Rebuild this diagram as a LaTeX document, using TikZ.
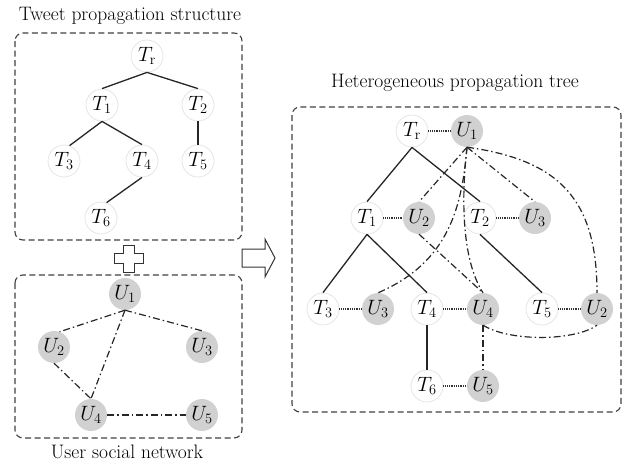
\documentclass[tikz,border=0pt]{standalone}
\begin{document}
\begin{tikzpicture}[x=1pt,y=-1pt,
  tn/.style={circle,draw=black!10,line width=0.8pt,fill=white,minimum size=32pt,inner sep=0pt,font=\fontsize{20}{22}\selectfont},
  un/.style={circle,fill=black!18,minimum size=32pt,inner sep=0pt,font=\fontsize{20}{22}\selectfont},
  tree/.style={line width=1.3pt,draw=black!85},
  tulink/.style={line width=1.2pt,draw=black!80,dash pattern=on 1pt off 0.8pt},
  social/.style={line width=1.2pt,draw=black!85,dash pattern=on 7pt off 3pt on 1.5pt off 3pt},
  frame/.style={line width=1.1pt,draw=black!75,dash pattern=on 6pt off 3.5pt,rounded corners=8pt},
  ttl/.style={font=\fontsize{19.5}{22}\selectfont},
  hollow/.style={line width=1pt,draw=black!80,fill=white}]
\useasboundingbox (0,0) rectangle (628,466);

% titles
\node[ttl] (ttweet) at (130,16) {Tweet propagation structure};
\node[ttl] (tuser) at (127,452) {User social network};
\node[ttl] (thet) at (455,83) {Heterogeneous propagation tree};

% frames
\draw[frame] (15,33) rectangle (242,240);
\draw[frame] (15,275) rectangle (242,438);
\draw[frame] (292,107) rectangle (621,412);

% plus and arrow
\draw[hollow] (114,253) -- (123,253) -- (123,245) -- (134,245) -- (134,253) -- (143,253) -- (143,263) -- (134,263) -- (134,272) -- (123,272) -- (123,263) -- (114,263) -- cycle;
\draw[hollow] (242,249) -- (265,249) -- (265,239) -- (275,258) -- (265,277) -- (265,267) -- (242,267) -- cycle;

% tweet tree
\node[tn] (Tr) at (147,56) {$T_{\mathrm{r}}$};
\node[tn] (T1) at (102,105) {$T_1$};
\node[tn] (T2) at (198,105) {$T_2$};
\node[tn] (T3) at (64,161) {$T_3$};
\node[tn] (T4) at (142,161) {$T_4$};
\node[tn] (T5) at (198,161) {$T_5$};
\node[tn] (T6) at (101,218) {$T_6$};
\draw[tree] (Tr.south) -- (T1.north);
\draw[tree] (Tr.south) -- (T2.north);
\draw[tree] (T1.south) -- (T3.70);
\draw[tree] (T1.south) -- (T4.north);
\draw[tree] (T2.south) -- (T5.north);
\draw[tree] (T4.south) -- (T6.70);

% user network
\node[un] (U1) at (125,294) {$U_1$};
\node[un] (U2) at (54,347) {$U_2$};
\node[un] (U3) at (202,347) {$U_3$};
\node[un] (U4) at (91,415) {$U_4$};
\node[un] (U5) at (202,415) {$U_5$};
\draw[social] (U1.south) -- (U2.70);
\draw[social] (U1.south) -- (U3.north);
\draw[social] (U1.south) -- (U4.north);
\draw[social] (U2.south) -- (U4.north);
\draw[social] (U4) -- (U5);

% heterogeneous tree
\node[tn] (hTr) at (412,131) {$T_{\mathrm{r}}$};
\node[un] (hU1) at (467,131) {$U_1$};
\node[tn] (hT1) at (367,218) {$T_1$};
\node[un] (hU2) at (419,218) {$U_2$};
\node[tn] (hT2) at (480,218) {$T_2$};
\node[un] (hU3) at (535,218) {$U_3$};
\node[tn] (hT3) at (323,309) {$T_3$};
\node[un] (hU3b) at (378,309) {$U_3$};
\node[tn] (hT4) at (427,309) {$T_4$};
\node[un] (hU4) at (483,309) {$U_4$};
\node[tn] (hT5) at (542,309) {$T_5$};
\node[un] (hU2b) at (597,309) {$U_2$};
\node[tn] (hT6) at (427,386) {$T_6$};
\node[un] (hU5) at (483,386) {$U_5$};

\draw[tree] (hTr.south) -- (hT1.north);
\draw[tree] (hTr.south) -- (hT2.north);
\draw[tree] (hT1.south) -- (hT3.north);
\draw[tree] (hT1.south) -- (hT4.north);
\draw[tree] (hT2.south) -- (hT5.north);
\draw[tree] (hT4.south) -- (hT6.north);

\draw[tulink] (hTr) -- (hU1);
\draw[tulink] (hT1) -- (hU2);
\draw[tulink] (hT2) -- (hU3);
\draw[tulink] (hT3) -- (hU3b);
\draw[tulink] (hT4) -- (hU4);
\draw[tulink] (hT5) -- (hU2b);
\draw[tulink] (hT6) -- (hU5);

\draw[social] (hU1.south) -- (hU2.north);
\draw[social] (hU1.south) -- (hU3.north);
\draw[social] (hU2.south) -- (hU4.north);
\draw[social] (hU4.south) -- (hU5.north);
\draw[social] (hU1.south) .. controls (462,205) and (450,262) .. (hU3b.north);
\draw[social] (hU1.south) .. controls (461,200) and (462,260) .. (hU4.north);
\draw[social] (hU1.south) .. controls (560,160) and (597,200) .. (hU2b.north);
\draw[social] (hU4.south) .. controls (510,342) and (575,341) .. (hU2b.south);
\end{tikzpicture}
\end{document}
